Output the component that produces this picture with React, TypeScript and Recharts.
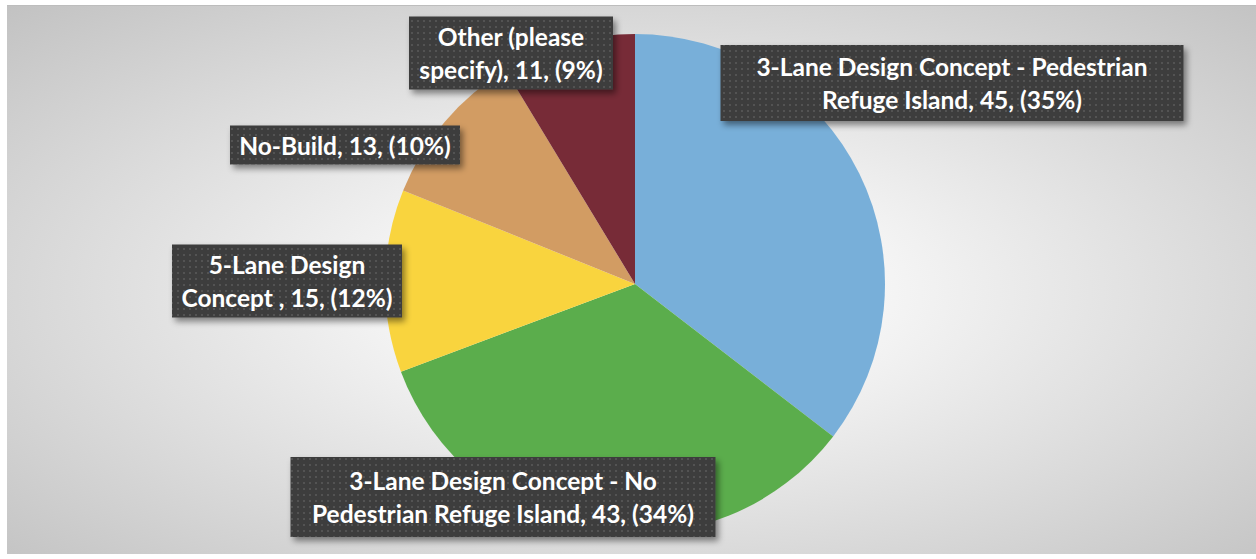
import { Cell, Pie, PieChart } from "recharts";

// Slice data, clockwise from 12 o'clock
const names = [
    "3-Lane Design Concept - Pedestrian Refuge Island",
    "3-Lane Design Concept - No Pedestrian Refuge Island",
    "5-Lane Design Concept ",
    "No-Build",
    "Other (please specify)",
];
const counts = [45, 43, 15, 13, 11];
const colors = ["#78AFD9", "#5BAD4C", "#F9D43E", "#D29C63", "#772B37"];

// how many words go on the first line of each data label (0 = single line)
const breakAfter = [5, 5, 2, 0, 2];

// label box placement relative to pie centre: [dx, dy, width, height]
const labelBoxes = [
    [317, -201, 463, 76],
    [-132, 213, 425, 80],
    [-348, -3, 230, 73],
    [-290, -139, 230, 39],
    [-124, -231, 204, 73],
];

const total = counts.reduce((a, b) => a + b, 0);
const data = names.map((name, i) => ({ name, value: counts[i] }));

const W = 1249;
const H = 549;
const CX = 628;
const CY = 278;

function labelLines(i: number) {
    const pct = Math.round((counts[i] / total) * 100);
    const text = `${names[i]}, ${counts[i]}, (${pct}%)`;
    const words = text.split(" ");
    if (!breakAfter[i]) return [text];
    return [words.slice(0, breakAfter[i]).join(" "), words.slice(breakAfter[i]).join(" ")];
}

function renderLabel(props: any) {
    const i = props.index;
    const [dx, dy, w, h] = labelBoxes[i];
    const bx = CX + dx;
    const by = CY + dy;
    const lines = labelLines(i);
    const lineH = 33;
    const startY = by - ((lines.length - 1) * lineH) / 2;
    return (
        <g key={`lbl-${i}`}>
            <rect
                x={bx - w / 2}
                y={by - h / 2}
                width={w}
                height={h}
                fill="url(#dots)"
                filter="url(#boxShadow)"
            />
            {lines.map((line, k) => (
                <text
                    key={k}
                    x={bx}
                    y={startY + k * lineH}
                    textAnchor="middle"
                    dominantBaseline="central"
                    fill="#ffffff"
                    fontFamily="Lato, 'Open Sans', sans-serif"
                    fontWeight={700}
                    fontSize={24.5}
                >
                    {line}
                </text>
            ))}
        </g>
    );
}

export default function App() {
    return (
        <div
            style={{
                position: "absolute",
                left: 7,
                top: 5,
                width: W,
                height: H,
                boxSizing: "border-box",
                borderTop: "1px solid #bdbdbd",
                background:
                    "radial-gradient(ellipse farthest-corner at 51% 52%, #ffffff 12%, #c2c2c2 100%)",
            }}
        >
            <PieChart width={W} height={H} margin={{ top: 0, right: 0, bottom: 0, left: 0 }}>
                <defs>
                    <pattern id="dots" width="6" height="6" patternUnits="userSpaceOnUse">
                        <rect width="6" height="6" fill="#3d3d3d" />
                        <circle cx="3" cy="3" r="0.9" fill="#5c5c5c" />
                    </pattern>
                    <filter id="boxShadow" x="-10%" y="-30%" width="130%" height="170%">
                        <feDropShadow dx="3" dy="4" stdDeviation="3" floodColor="#000" floodOpacity="0.45" />
                    </filter>
                </defs>
                <Pie
                    data={data}
                    dataKey="value"
                    nameKey="name"
                    cx={CX}
                    cy={CY}
                    outerRadius={250}
                    startAngle={90}
                    endAngle={-270}
                    stroke="none"
                    label={renderLabel}
                    labelLine={false}
                    isAnimationActive={false}
                >
                    {data.map((d, i) => (
                        <Cell key={d.name} fill={colors[i]} />
                    ))}
                </Pie>
            </PieChart>
        </div>
    );
}
